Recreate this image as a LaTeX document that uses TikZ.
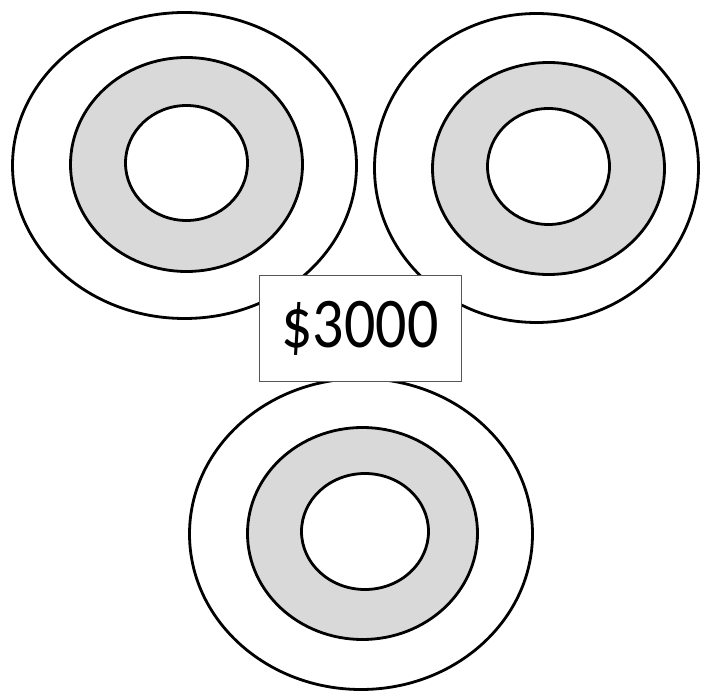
\documentclass[tikz,border=0pt]{standalone}
\usepackage{fontspec}
\setmainfont{Carlito}
\definecolor{ringgray}{HTML}{D9D9D9}
\definecolor{boxgray}{HTML}{555555}
\tikzset{
  ringline/.style={draw=black, line width=2.8pt}
}
\newcommand{\mytarget}[9]{%
  \draw[ringline, fill=white] (#1,#2) ellipse [x radius=#3, y radius=#4];
  \draw[ringline, fill=ringgray] (#5,#6) ellipse [x radius=#7, y radius=#8];
  \draw[ringline, fill=white] #9;
}
\begin{document}
\begin{tikzpicture}[x=1pt,y=-1pt]
\useasboundingbox (0,0) rectangle (712,692);
% top-left target
\mytarget{184.5}{165.5}{172}{153}{186.5}{164.5}{116}{107}{(186.5,163) ellipse [x radius=61, y radius=57.5]}
% top-right target
\mytarget{536.5}{168}{162}{154.5}{548.5}{168.5}{116}{106}{(548.5,166.5) ellipse [x radius=61, y radius=58]}
% bottom target
\mytarget{361}{534}{171.5}{155.5}{362.5}{533.5}{115}{106}{(365,531.5) ellipse [x radius=63.5, y radius=58]}
% label box
\node[draw=boxgray, line width=0.9pt, fill=white, minimum width=202pt, minimum height=106pt,
      inner sep=0pt, font=\fontsize{62}{70}\selectfont] (price) at (360,328)
      {\scalebox{1}[1.15]{\$3000}};
\end{tikzpicture}
\end{document}
